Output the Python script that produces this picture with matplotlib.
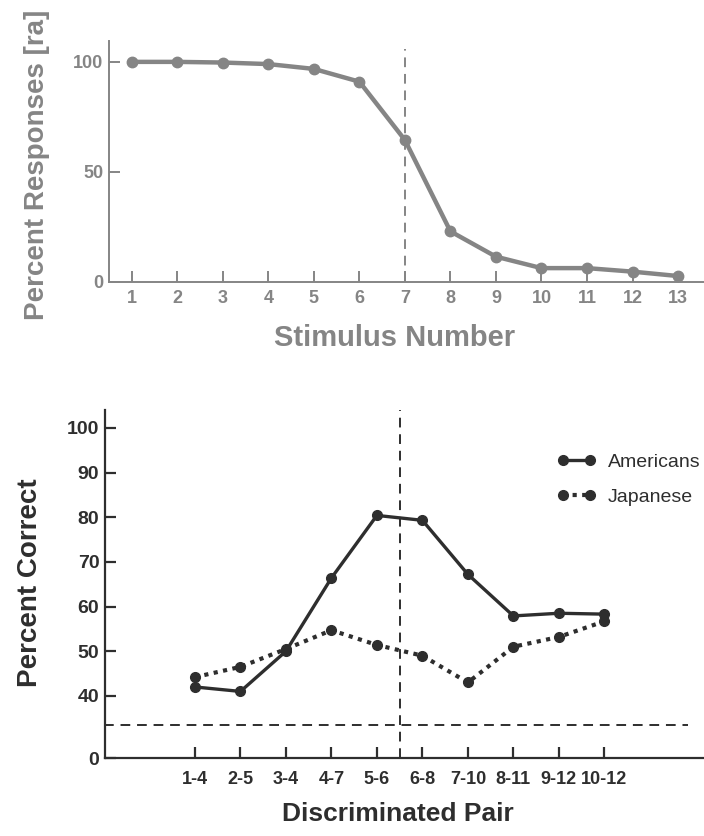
import numpy as np
import matplotlib.pyplot as plt
from matplotlib.lines import Line2D

plt.rcParams['font.family'] = ['Liberation Sans', 'DejaVu Sans']

# top panel: identification curve
stimulus = [1, 2, 3, 4, 5, 6, 7, 8, 9, 10, 11, 12, 13]
pct_ra = [100, 100, 99.7, 99, 96.8, 91, 64.5, 23, 11.5, 6.3, 6.3, 4.7, 2.7]
boundary_stim = 7

# bottom panel: discrimination
pairs = ['1-4', '2-5', '3-4', '4-7', '5-6', '6-8', '7-10', '8-11', '9-12', '10-12']
americans = [42, 41, 50, 66.4, 80.4, 79.3, 67.2, 57.9, 58.5, 58.3]
japanese = [44.2, 46.5, 50.5, 54.7, 51.4, 49, 43, 51, 53.2, 56.7]
chance = 33.3
boundary_pair = 4.5  # between 5-6 and 6-8

gray = '#858585'
dark = '#2e2e2e'

fig = plt.figure(figsize=(7.04, 8.36), dpi=100)

# ---------- top ----------
ax1 = fig.add_axes([0.1548, 0.6627, 0.8452, 0.2883])
ax1.plot(stimulus, pct_ra, '-o', color=gray, lw=3.2, ms=7.5, zorder=3)
ax1.plot([boundary_stim, boundary_stim], [0, 106], color=gray, lw=1.4,
         dashes=(5, 3.5))
ax1.set_xlim(0.5, 13.57)
ax1.set_ylim(0, 109.5)
ax1.set_xticks(stimulus)
ax1.set_yticks([0, 50, 100])
for s in ['top', 'right']:
    ax1.spines[s].set_visible(False)
for s in ['left', 'bottom']:
    ax1.spines[s].set_color(gray)
    ax1.spines[s].set_linewidth(1.4)
ax1.tick_params(direction='in', length=8, width=1.4, color=gray,
                labelcolor=gray, labelsize=13)
ax1.tick_params(axis='x', pad=6)
ax1.tick_params(axis='y', pad=4, labelsize=13)
for t in ax1.get_xticklabels() + ax1.get_yticklabels():
    t.set_fontweight('bold')
ax1.set_ylabel('Percent Responses [ra]', fontsize=20, fontweight='bold', color=gray)
ax1.yaxis.set_label_coords(-0.099, 0.485)
ax1.set_xlabel('Stimulus Number', fontsize=21, fontweight='bold', color=gray)
ax1.xaxis.set_label_coords(0.48, -0.175)

# ---------- bottom (broken axis below 40) ----------
src = [0, chance, 40, 200]
dst = [26.1, 33.5, 40, 200]


def fwd(v):
    return np.interp(v, src, dst)


def inv(v):
    return np.interp(v, dst, src)


ax2 = fig.add_axes([0.149, 0.0933, 0.851, 0.4163])
ax2.set_yscale('function', functions=(fwd, inv))
x = np.arange(len(pairs))
ax2.plot(x, americans, '-o', color=dark, lw=2.4, ms=7, zorder=3)
ax2.plot(x, japanese, 'o', color=dark, ms=7, zorder=3)
ax2.plot(x, japanese, color=dark, lw=3, dashes=(1, 1.3), zorder=3)
ax2.plot([-2, 10.84], [chance, chance], color=dark, lw=1.4, dashes=(5, 3.5))
ax2.plot([boundary_pair, boundary_pair], [0, 104], color=dark, lw=1.4,
         dashes=(5, 3.5))
ax2.set_xlim(-1.98, 11.19)
ax2.set_ylim(0, 104)
ax2.set_xticks(x)
ax2.set_xticklabels(pairs)
ax2.set_yticks([0, 40, 50, 60, 70, 80, 90, 100])
ax2.set_yticklabels(['0', '40', '50', '60', '70', '80', '90', '100'])
ax2.minorticks_off()
for s in ['top', 'right']:
    ax2.spines[s].set_visible(False)
for s in ['left', 'bottom']:
    ax2.spines[s].set_color(dark)
    ax2.spines[s].set_linewidth(1.6)
ax2.tick_params(direction='in', length=8, width=1.6, color=dark,
                labelcolor=dark, labelsize=13)
ax2.tick_params(axis='x', pad=9)
ax2.tick_params(axis='y', pad=4, labelsize=14)
for t in ax2.get_xticklabels() + ax2.get_yticklabels():
    t.set_fontweight('bold')
ax2.set_ylabel('Percent Correct', fontsize=20, fontweight='bold', color=dark)
ax2.yaxis.set_label_coords(-0.1035, 0.503)
ax2.set_xlabel('Discriminated Pair', fontsize=19, fontweight='bold', color=dark)
ax2.xaxis.set_label_coords(0.489, -0.127)

handles = [
    Line2D([0, 1], [0, 0], color=dark, lw=2.4, marker='o', ms=7),
    Line2D([0, 1], [0, 0], color=dark, lw=3, dashes=(1, 1.3), marker='o', ms=7),
]
ax2.legend(handles, ['Americans', 'Japanese'], loc='upper left',
           bbox_to_anchor=(0.7546, 0.876), frameon=False, numpoints=2,
           fontsize=14, labelspacing=0.9, handlelength=2.0, handletextpad=0.6,
           borderpad=0, borderaxespad=0, labelcolor=dark)

fig.savefig('out.png', dpi=100)
